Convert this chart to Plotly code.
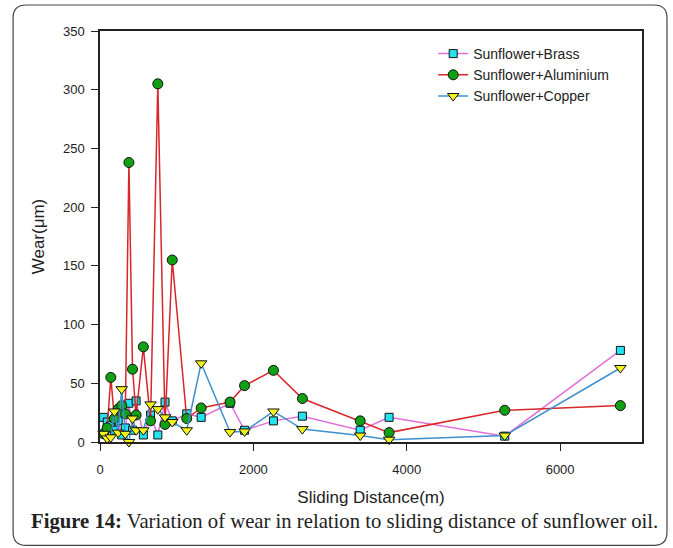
import plotly.graph_objects as go

# Sliding distance (m)
distance = [47, 94, 141, 188, 236, 283, 330, 377, 424, 471, 565, 659, 754, 848,
            942, 1131, 1319, 1696, 1885, 2262, 2639, 3393, 3770, 5278, 6786]

# Wear (um)
brass = [21, 17, 14, 10, 18, 6, 12, 33, 10, 35, 6, 23, 6, 34,
         18, 24, 21, 33, 10, 18, 22, 10, 21, 5, 78]
aluminium = [7, 12, 55, 20, 28, 31, 24, 238, 62, 23, 81, 18, 305, 15,
             155, 20, 29, 34, 48, 61, 37, 18, 8, 27, 31]
copper = [7, 3, 4, 26, 8, 45, 7, 0, 20, 10, 10, 32, 28, 21,
          17, 10, 67, 8.5, 9, 26, 11, 5.5, 2, 5.5, 63]

series_names = ["Sunflower+Brass", "Sunflower+Aluminium", "Sunflower+Copper"]
y_ticks = [0, 50, 100, 150, 200, 250, 300, 350]
x_ticks = [0, 2000, 4000, 6000]

# pixel geometry helpers (plot area)
L, R, T, B = 99.5, 642.0, 31.0, 441.7
W, H = 673, 548
def px(x):
    return (x - L) / (R - L)
def py(y):
    return (B - y) / (B - T)

fig = go.Figure()
fig.add_trace(go.Scatter(
    x=distance, y=brass, name=series_names[0], mode="lines+markers",
    line=dict(color="#e070d8", width=1.5),
    marker=dict(symbol="square", size=8, color="#22e4f0",
                line=dict(color="#111", width=1)),
    cliponaxis=False))
fig.add_trace(go.Scatter(
    x=distance, y=aluminium, name=series_names[1], mode="lines+markers",
    line=dict(color="#d8262a", width=1.5),
    marker=dict(symbol="circle", size=10, color="#10a014",
                line=dict(color="#111", width=1)),
    cliponaxis=False))
fig.add_trace(go.Scatter(
    x=distance, y=copper, name=series_names[2], mode="lines+markers",
    line=dict(color="#3f8fcf", width=1.5),
    marker=dict(symbol="triangle-down", size=10, color="#f4f41c",
                line=dict(color="#111", width=1)),
    cliponaxis=False))

# rounded outer frame
x0, x1, y0, y1, r = 12.5, 667.0, 5.0, 545.0, 13.0
path = (f"M {px(x0 + r)} {py(y0)} L {px(x1 - r)} {py(y0)} "
        f"Q {px(x1)} {py(y0)} {px(x1)} {py(y0 + r)} "
        f"L {px(x1)} {py(y1 - r)} Q {px(x1)} {py(y1)} {px(x1 - r)} {py(y1)} "
        f"L {px(x0 + r)} {py(y1)} Q {px(x0)} {py(y1)} {px(x0)} {py(y1 - r)} "
        f"L {px(x0)} {py(y0 + r)} Q {px(x0)} {py(y0)} {px(x0 + r)} {py(y0)} Z")
fig.add_shape(type="path", path=path, xref="paper", yref="paper",
              line=dict(color="#444", width=1.2), layer="below")

fig.add_annotation(
    text="<b>Figure 14:</b> Variation of wear in relation to sliding distance of sunflower oil.",
    xref="paper", yref="paper", x=px(344), y=py(521), showarrow=False,
    xanchor="center", yanchor="middle",
    font=dict(family="Liberation Serif", size=20.7, color="#222"))

axis_common = dict(showline=True, linecolor="#222", linewidth=1.5, mirror=True,
                   ticks="outside", ticklen=7, tickwidth=1.2, tickcolor="#222",
                   showgrid=False, zeroline=False,
                   tickfont=dict(family="Liberation Sans", size=13, color="#222"))

fig.update_layout(
    width=W, height=H,
    margin=dict(l=L, r=W - R, t=T, b=H - B, pad=0),
    paper_bgcolor="white", plot_bgcolor="white",
    font=dict(family="Liberation Sans", color="#222"),
    xaxis=dict(range=[0, 7068], tickvals=x_ticks, ticklabelstandoff=8,
               title=dict(text="Sliding Distance(m)", standoff=15,
                          font=dict(family="Liberation Sans", size=17, color="#222")),
               **axis_common),
    yaxis=dict(range=[0, 350], tickvals=y_ticks, ticklabelstandoff=4,
               title=dict(text="Wear(μm)", standoff=14,
                          font=dict(family="Liberation Sans", size=17, color="#222")),
               **axis_common),
    legend=dict(x=px(433), y=py(38), xanchor="left", yanchor="top",
                bgcolor="rgba(0,0,0,0)", borderwidth=0,
                font=dict(family="Liberation Sans", size=14, color="#222"),
                tracegroupgap=0),
    showlegend=True,
)

fig.write_html("out.html")
